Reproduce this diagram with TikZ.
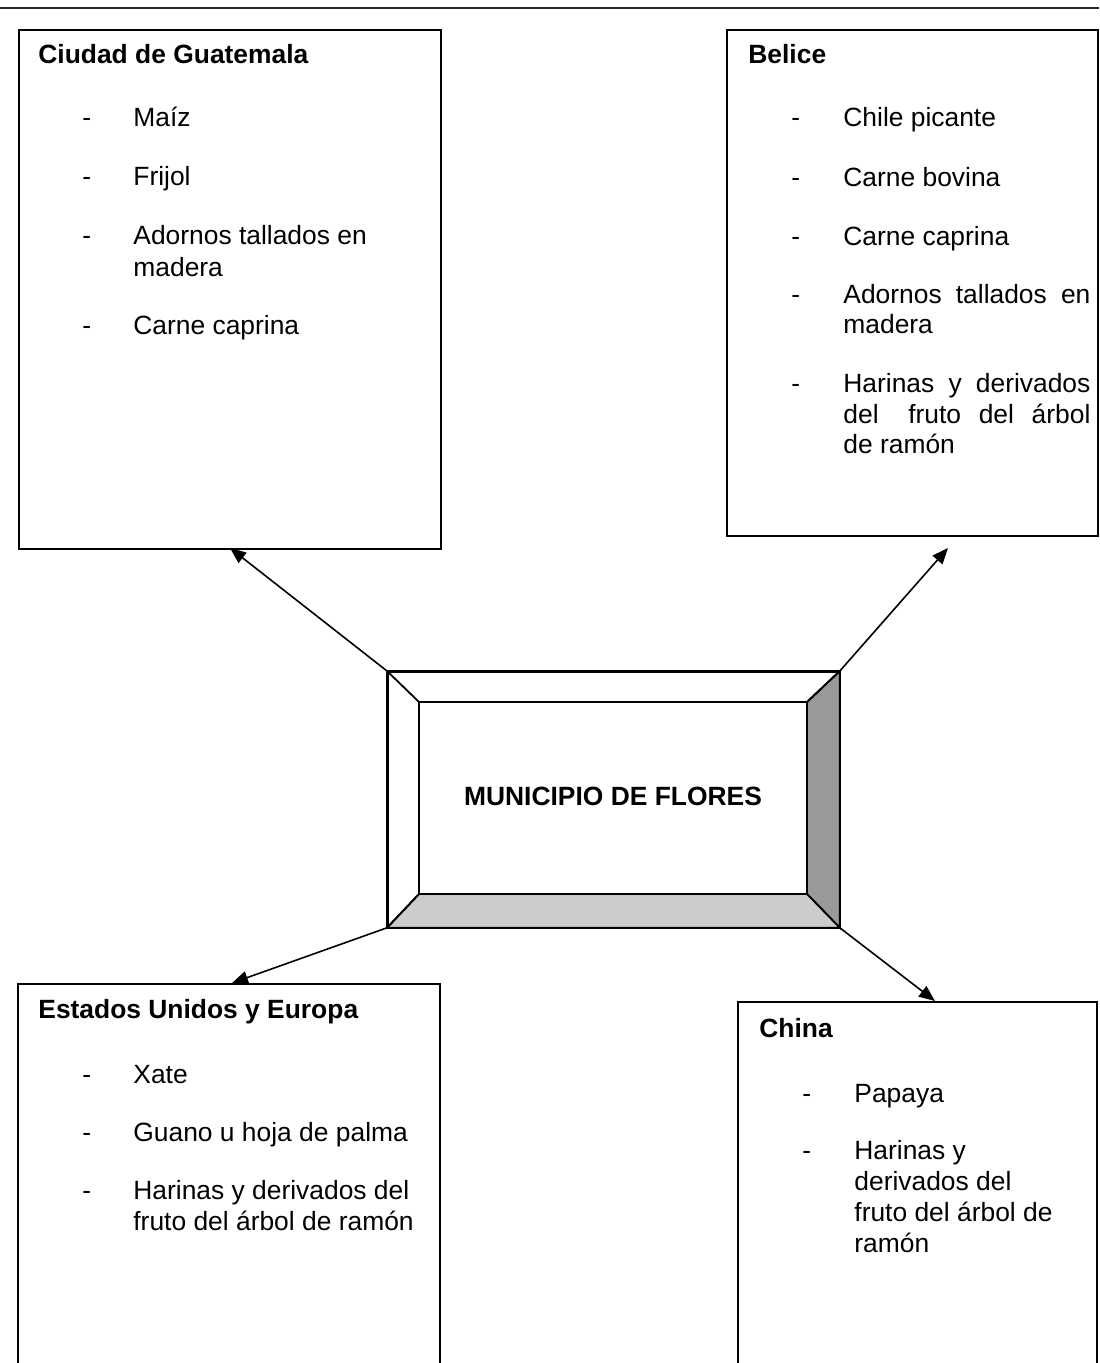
\documentclass[tikz,border=0pt]{standalone}
\usepackage{fontspec}
\setmainfont{Liberation Sans}
\usetikzlibrary{arrows.meta}
\definecolor{bevdark}{RGB}{153,153,153}
\definecolor{bevlight}{RGB}{204,204,204}
\begin{document}
\begin{tikzpicture}[x=0.5pt,y=-0.5pt,
  box/.style={draw=black, line width=0.9pt},
  ttl/.style={anchor=base west, inner sep=0pt, font=\fontsize{13.2}{15.8}\selectfont\bfseries},
  itm/.style={anchor=base west, inner sep=0pt, font=\fontsize{13.2}{15.8}\selectfont},
  arr/.style={line width=0.8pt, -{Triangle[length=8pt,width=6.5pt]}},
  bev/.style={draw=black, line width=0.9pt, line join=miter}]
\useasboundingbox (0,0) rectangle (1099,1363);
% top rule
\draw[line width=1.1pt, draw=black!85] (0,8) -- (1099,8);

% destination boxes
\node[box, anchor=north west, minimum width=211pt, minimum height=259.5pt, inner sep=0pt] (guat) at (18,29) {};
\node[box, anchor=north west, minimum width=185.5pt, minimum height=253pt, inner sep=0pt] (bel) at (726,29) {};
\draw[box] (18,1366) -- (18,984) -- (440,984) -- (440,1366);
\draw[box] (738,1366) -- (738,1002) -- (1097,1002) -- (1097,1366);

% central bevelled box
\node[box, anchor=north west, minimum width=225.5pt, minimum height=127.5pt, inner sep=0pt] (mun) at (387,671) {};
\coordinate (iNW) at (419,702);
\coordinate (iNE) at (807,702);
\coordinate (iSE) at (807,894);
\coordinate (iSW) at (419,894);
\filldraw[bev, fill=bevdark] (mun.north east) -- (iNE) -- (iSE) -- (mun.south east) -- cycle;
\filldraw[bev, fill=bevlight] (mun.south west) -- (iSW) -- (iSE) -- (mun.south east) -- cycle;
\draw[bev] (mun.north west) -- (iNW) -- (iSW) -- (mun.south west);
\draw[bev] (mun.north west) -- (mun.north east) -- (iNE) -- (iNW);
\draw[bev] (iNW) rectangle (iSE);
\draw[box] (mun.north west) rectangle (mun.south east);
\node[anchor=base, inner sep=0pt, font=\fontsize{13.2}{15.8}\selectfont\bfseries] (munlabel) at (613,805) {MUNICIPIO DE FLORES};

% arrow tips
\coordinate (guatTip) at (230,548);
\coordinate (belTip) at (948,548);
\coordinate (euTip) at (232,983);
\coordinate (chTip) at (935,1001);
\draw[arr] (mun.north west) -- (guatTip);
\draw[arr] (mun.north east) -- (belTip);
\draw[arr] (mun.south west) -- (euTip);
\draw[arr] (mun.south east) -- (chTip);

% Ciudad de Guatemala
\node[ttl] (gt) at (38,64) {Ciudad de Guatemala};
\node[itm] (gd1) at (82,127) {-};
\node[itm] (gi1) at (133,127) {Maíz};
\node[itm] (gd2) at (82,186) {-};
\node[itm] (gi2) at (133,186) {Frijol};
\node[itm] (gd3) at (82,245) {-};
\node[itm] (gi3) at (133,245) {Adornos tallados en};
\node[itm] (gi3b) at (133,277) {madera};
\node[itm] (gd4) at (82,335) {-};
\node[itm] (gi4) at (133,335) {Carne caprina};

% Belice
\node[ttl] (bt) at (748,64) {Belice};
\node[itm] (bd1) at (791,127) {-};
\node[itm] (bi1) at (843,127) {Chile picante};
\node[itm] (bd2) at (791,187) {-};
\node[itm] (bi2) at (843,187) {Carne bovina};
\node[itm] (bd3) at (791,246) {-};
\node[itm] (bi3) at (843,246) {Carne caprina};
\node[itm] (bd4) at (791,304) {-};
\node[itm] (bi4) at (843,304) {\makebox[123.5pt][s]{Adornos tallados en}};
\node[itm] (bi4b) at (843,334) {madera};
\node[itm] (bd5) at (791,393) {-};
\node[itm] (bi5) at (843,393) {\makebox[123.5pt][s]{Harinas y derivados}};
\node[itm] (bi5b) at (843,423) {\makebox[123.5pt][s]{del\hspace{6pt} fruto del árbol}};
\node[itm] (bi5c) at (843,453) {de ramón};

% Estados Unidos y Europa
\node[ttl] (et) at (38,1018) {Estados Unidos y Europa};
\node[itm] (ed1) at (82,1083) {-};
\node[itm] (ei1) at (133,1083) {Xate};
\node[itm] (ed2) at (82,1141) {-};
\node[itm] (ei2) at (133,1141) {Guano u hoja de palma};
\node[itm] (ed3) at (82,1199) {-};
\node[itm] (ei3) at (133,1199) {Harinas y derivados del};
\node[itm] (ei3b) at (133,1230) {fruto del árbol de ramón};

% China
\node[ttl] (ct) at (759,1037) {China};
\node[itm] (cd1) at (802,1102) {-};
\node[itm] (ci1) at (854,1102) {Papaya};
\node[itm] (cd2) at (802,1159) {-};
\node[itm] (ci2) at (854,1159) {Harinas y};
\node[itm] (ci2b) at (854,1190) {derivados del};
\node[itm] (ci2c) at (854,1221) {fruto del árbol de};
\node[itm] (ci2d) at (854,1252) {ramón};
\end{tikzpicture}
\end{document}
